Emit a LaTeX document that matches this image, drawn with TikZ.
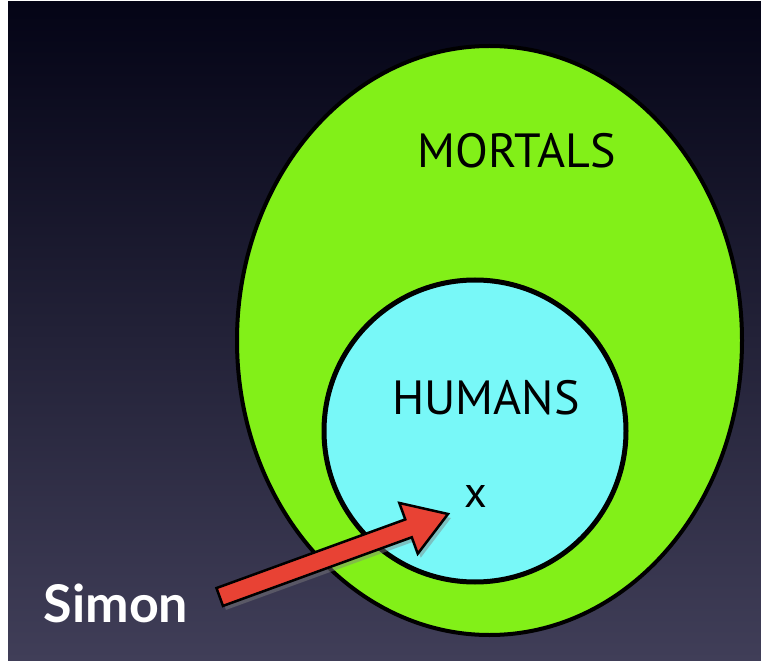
\documentclass[tikz,border=0pt]{standalone}
\usepackage{fontspec}
\setmainfont{Lato}
\newfontfamily\setfont{PT Sans}
\usetikzlibrary{calc,shadows}
\definecolor{bgtop}{RGB}{4,4,22}
\definecolor{bgbottom}{RGB}{64,62,88}
\definecolor{mortalgreen}{RGB}{130,240,24}
\definecolor{humancyan}{RGB}{120,248,248}
\definecolor{arrowred}{RGB}{232,66,52}

\begin{document}
\begin{tikzpicture}[x=1pt,y=-1pt,
  setlabel/.style={font=\setfont\fontsize{48}{48}\selectfont, text=black},
  setline/.style={draw=black, line width=4pt}]
  % page and background
  \fill[white] (0,0) rectangle (761,663);
  \useasboundingbox (0,0) rectangle (761,663);
  \shade[top color=bgtop, bottom color=bgbottom] (8,2) rectangle (761,660);

  % the two sets
  \draw[setline, fill=mortalgreen] (489.5,340.5) ellipse [x radius=252.5, y radius=294.5];
  \draw[setline, fill=humancyan, line width=5pt] (475,431) circle [radius=151];

  \node[setlabel] (mortals) at (517,151) {MORTALS};
  \node[setlabel] (humans) at (486,398) {HUMANS};
  \node[font=\setfont\fontsize{44}{44}\selectfont] (x) at (476,496) {x};
  \node[font=\fontsize{52}{52}\selectfont\bfseries, text=white] (simon) at (116,603) {Simon};

  % the arrow from Simon to x
  \coordinate (tail) at ($(simon.east)+(28,-6)$);
  \coordinate (tip) at ($(x)+(-28,18)$);
  \coordinate (hb) at ($(tip)!42pt!(tail)$);
  \draw[black, line width=2.5pt, line join=miter, fill=arrowred,
    drop shadow={shadow xshift=3pt, shadow yshift=-4pt, opacity=0.45}]
    ($(tail)!9.5pt!-90:(tip)$) -- ($(hb)!9.5pt!90:(tail)$) -- ($(hb)!27pt!90:(tail)$)
    -- (tip) -- ($(hb)!27pt!-90:(tail)$) -- ($(hb)!9.5pt!-90:(tail)$)
    -- ($(tail)!9.5pt!90:(tip)$) -- cycle;
\end{tikzpicture}
\end{document}
